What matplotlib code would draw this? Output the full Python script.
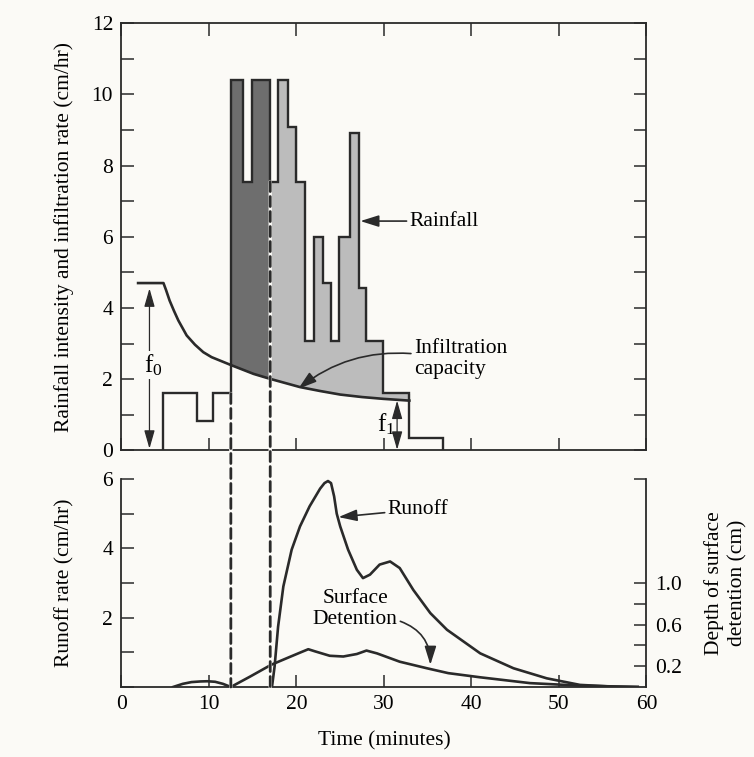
import numpy as np
import matplotlib.pyplot as plt
from matplotlib.patches import ConnectionPatch

plt.rcParams['font.family'] = ['Liberation Serif', 'DejaVu Serif']
plt.rcParams['mathtext.fontset'] = 'custom'
plt.rcParams['mathtext.rm'] = 'Liberation Serif'
plt.rcParams['mathtext.default'] = 'regular'

# rainfall hyetograph: step edges (min) and intensities (cm/hr)
rain_edges = [4.7, 8.6, 10.5, 12.5, 13.9, 14.9, 17.0, 17.9, 19.0, 20.0, 21.0,
              22.0, 23.0, 23.9, 24.9, 26.1, 27.1, 28.0, 29.9, 32.9, 36.8]
rain_rate = [1.6, 0.82, 1.6, 10.4, 7.55, 10.4, 7.55, 10.4, 9.08, 7.55, 3.07,
             6.0, 4.7, 3.07, 6.0, 8.9, 4.55, 3.07, 1.6, 0.35]

# infiltration capacity curve (cm/hr)
inf_time = [1.9, 4.8, 5.1, 5.5, 6.0, 6.5, 7.45, 8.4, 9.35, 10.3, 11.3, 12.6,
            15.1, 17.0, 20.4, 22.7, 25.0, 27.5, 29.9, 32.9]
inf_rate = [4.70, 4.70, 4.50, 4.21, 3.92, 3.65, 3.23, 2.97, 2.76, 2.62, 2.52,
            2.39, 2.15, 2.01, 1.78, 1.67, 1.57, 1.50, 1.45, 1.40]

# times bounding the dark (ponding) part of the excess
dash_times = [12.5, 17.0]

# runoff hydrograph (cm/hr)
runoff_time = [17.2, 17.5, 17.9, 18.5, 19.45, 20.4, 21.5, 22.7, 23.2, 23.6,
               23.95, 24.3, 24.6, 25.0, 25.9, 26.9, 27.6, 28.4, 29.5, 30.7,
               31.8, 33.35, 35.3, 37.2, 41.0, 44.8, 48.6, 52.4, 56.2, 59.0]
runoff_rate = [0, 0.59, 1.74, 2.9, 3.96, 4.63, 5.21, 5.72, 5.88, 5.94,
               5.88, 5.5, 5.0, 4.63, 3.96, 3.38, 3.14, 3.24, 3.53, 3.62,
               3.43, 2.80, 2.13, 1.65, 0.97, 0.54, 0.25, 0.06, 0.01, 0]

# depth of surface detention (cm)
det_time = [5.9, 7.0, 8.0, 9.0, 9.8, 10.7, 11.6, 12.5, 14.7, 17.1, 18.9, 20.4,
            21.35, 22.1, 23.8, 25.35, 26.9, 28.0, 29.2, 31.8, 34.9, 37.35,
            41.0, 46.7, 52.4, 59.0]
det_depth = [0, 0.03, 0.047, 0.053, 0.055, 0.05, 0.03, 0, 0.10, 0.213, 0.277,
             0.33, 0.363, 0.343, 0.30, 0.293, 0.317, 0.35, 0.323, 0.243, 0.18,
             0.133, 0.093, 0.037, 0.013, 0]

ink = '#2a2a2a'
paper = '#fbfaf6'
dark = '#6e6e6e'
light = '#bcbcbc'
fs = 15.5

fig = plt.figure(figsize=(7.54, 7.57), dpi=100, facecolor=paper)
ax1 = fig.add_axes([0.1611, 0.4049, 0.6963, 0.5647], facecolor=paper)
ax2 = fig.add_axes([0.1611, 0.0925, 0.6963, 0.2748], facecolor=paper)

# --- top panel: rainfall excess above the infiltration curve ---
segs = {dark: ([], []), light: ([], [])}
for i, v in enumerate(rain_rate):
    a, b = rain_edges[i], rain_edges[i + 1]
    if b <= dash_times[0] or a >= inf_time[-1]:
        continue
    color = dark if b <= dash_times[1] else light
    tt = np.linspace(a, b, 60)
    segs[color][0].append(tt)
    segs[color][1].append(np.full_like(tt, v))
for color, (ts, vs) in segs.items():
    tt = np.concatenate(ts)
    vv = np.concatenate(vs)
    cap = np.interp(tt, inf_time, inf_rate)
    ax1.fill_between(tt, cap, np.maximum(vv, cap), color=color, lw=0.4,
                     edgecolor=color, zorder=1)

ax1.stairs(rain_rate, rain_edges, baseline=0, color=ink, lw=1.7, zorder=3)
ax1.plot(inf_time, inf_rate, color=ink, lw=1.9, zorder=3)

ax1.set_xlim(0, 60)
ax1.set_ylim(0, 12)
ax1.set_xticks(range(0, 61, 10))
ax1.set_yticks(range(0, 13, 2))
ax1.set_yticks(range(1, 12, 2), minor=True)
ax1.tick_params(which='both', direction='in', length=9, width=1.1, color=ink,
                top=True, right=True, labelbottom=False, labelsize=fs, pad=6)
ax1.set_ylabel('Rainfall intensity and infiltration rate (cm/hr)', fontsize=fs)
ax1.yaxis.set_label_coords(-0.09, 0.5)
for s in ax1.spines.values():
    s.set_color(ink)
    s.set_linewidth(1.3)

arrow = dict(arrowstyle='-|>,head_length=0.7,head_width=0.22', color=ink,
             lw=1.2, shrinkA=0, shrinkB=0, mutation_scale=16)
ax1.annotate('Rainfall', xy=(27.3, 6.44), xytext=(32.9, 6.44), fontsize=15.5,
             va='center', ha='left', arrowprops=arrow)
ax1.annotate('Infiltration\ncapacity', xy=(20.2, 1.73), xytext=(33.4, 2.58),
             fontsize=15.5, va='center', ha='left', linespacing=1.15,
             arrowprops=dict(arrow, connectionstyle='arc3,rad=0.2',
                             relpos=(0, 0.62)))

dbl = dict(arrowstyle='<|-|>,head_length=0.7,head_width=0.2', color=ink,
           lw=0.9, shrinkA=0, shrinkB=0, mutation_scale=16)
ax1.annotate('', xy=(3.2, 4.55), xytext=(3.2, 0.05), arrowprops=dbl)
ax1.text(3.6, 2.4, 'f$_0$', fontsize=18, ha='center', va='center',
         bbox=dict(facecolor=paper, edgecolor='none', pad=1))
ax1.annotate('', xy=(31.5, 1.40), xytext=(31.5, 0.02), arrowprops=dbl)
ax1.text(30.2, 0.75, 'f$_1$', fontsize=18, ha='center', va='center')

# --- bottom panel: runoff and surface detention ---
ax2.plot(runoff_time, runoff_rate, color=ink, lw=1.9, zorder=3)
ax2.set_xlim(0, 60)
ax2.set_ylim(0, 6)
ax2.set_xticks(range(0, 61, 10))
ax2.set_yticks([0, 2, 4, 6], labels=['', '2', '4', '6'])
ax2.set_yticks([1, 3, 5], minor=True)
ax2.tick_params(which='both', direction='in', length=9, width=1.1, color=ink,
                labelsize=fs, pad=6)
ax2.spines['top'].set_visible(False)
ax2.spines['right'].set_visible(False)
for s in ('left', 'bottom'):
    ax2.spines[s].set_color(ink)
    ax2.spines[s].set_linewidth(1.3)
ax2.set_ylabel('Runoff rate (cm/hr)', fontsize=fs)
ax2.yaxis.set_label_coords(-0.09, 0.5)
ax2.set_xlabel('Time (minutes)', fontsize=15.5)
ax2.xaxis.set_label_coords(0.5, -0.215)

ax3 = ax2.twinx()
ax3.plot(det_time, det_depth, color=ink, lw=1.9, zorder=3)
ax3.set_ylim(0, 2)
ax3.set_yticks([0.2, 0.4, 0.6, 0.8, 1.0, 2.0],
               labels=['0.2', '', '0.6', '', '1.0', ''])
ax3.tick_params(direction='in', length=9, width=1.1, color=ink,
                labelsize=fs, pad=6)
for s in ('top', 'left', 'bottom'):
    ax3.spines[s].set_visible(False)
ax3.spines['right'].set_color(ink)
ax3.spines['right'].set_linewidth(1.3)
ax3.set_ylabel('Depth of surface\ndetention (cm)', fontsize=15.5,
               linespacing=1.3)
ax3.yaxis.set_label_coords(1.11, 0.5)

ax2.annotate('Runoff', xy=(24.8, 4.9), xytext=(30.4, 5.12), fontsize=15.5,
             va='center', ha='left', arrowprops=arrow)
ax2.annotate('Surface\nDetention', xy=(35.3, 0.64), xytext=(26.7, 2.25),
             fontsize=15.5, va='center', ha='center', linespacing=1.2,
             arrowprops=dict(arrow, connectionstyle='arc3,rad=-0.35',
                             relpos=(1.03, 0.2)))

# dashed lines linking the two panels
for t0 in dash_times:
    i = rain_edges.index(t0)
    top = min(rain_rate[i - 1], rain_rate[i])
    for color, ls, lw in [(paper, '-', 2.4), (ink, (0, (3.6, 1.8)), 2.0)]:
        con = ConnectionPatch(xyA=(t0, top), coordsA=ax1.transData,
                              xyB=(t0, 0), coordsB=ax2.transData,
                              color=color, linestyle=ls, lw=lw)
        fig.add_artist(con)

fig.savefig('out.png', dpi=100, facecolor=paper)
